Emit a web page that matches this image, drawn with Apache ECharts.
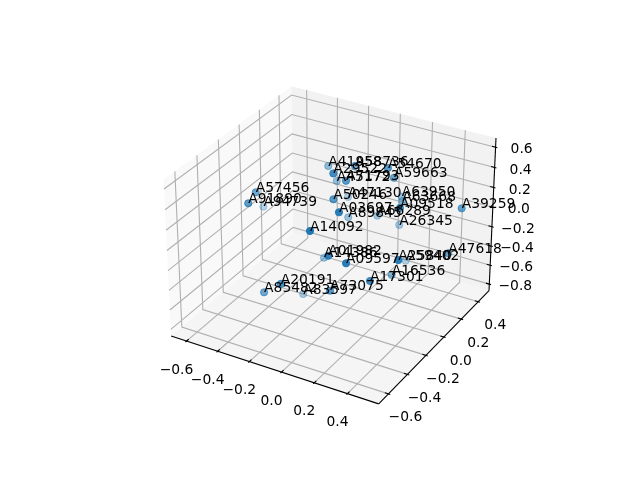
<!DOCTYPE html>
<html>
<head>
<meta charset="utf-8">
<style>html,body{margin:0;padding:0;background:#fff}#main{width:640px;height:480px}</style>
<script src="https://cdn.jsdelivr.net/npm/echarts@6/dist/echarts.min.js"></script>
</head>
<body>
<div id="main"></div>
<script>
const names = ['A41958','A58736','A54670','A29522','A45172','A71793','A59663','A57456','A91890','A94739','A50246',
  'A47130','A63950','A63668','A09518','A39259','A03697','A89845','A66289','A26345','A14092','A01982',
  'A14386','A09597','A25840','A59402','A47618','A16536','A17301','A20191','A85482','A83597','A73075'];
const xVals = [-0.248,-0.051,0.151,-0.047,-0.211,-0.026,0.147,-0.480,-0.449,-0.576,-0.060,
  -0.182,0.121,0.152,0.304,0.526,0.077,-0.106,0.008,0.126,-0.006,0.062,
  -0.166,0.176,0.409,0.185,0.503,0.224,0.263,-0.166,-0.306,-0.239,0.047];
const yVals = [0.181,0.132,0.132,-0.099,0.209,-0.004,0.206,-0.184,-0.304,0.033,-0.077,
  0.281,0.344,0.296,-0.006,0.272,-0.248,0.156,0.276,0.313,-0.400,-0.331,
  0.000,-0.341,-0.203,0.287,0.178,0.061,-0.242,-0.437,-0.386,-0.100,-0.288];
const zVals = [0.328,0.451,0.518,0.560,0.171,0.422,0.362,0.252,0.253,-0.113,0.283,
  -0.037,0.050,0.059,0.303,0.173,0.357,-0.109,-0.140,-0.212,0.263,-0.007,
  -0.422,-0.018,0.006,-0.534,-0.210,-0.465,-0.239,-0.306,-0.506,-0.748,-0.402];

const xTicks = [-0.6,-0.4,-0.2,0,0.2,0.4];
const yTicks = [-0.6,-0.4,-0.2,0,0.2,0.4];
const zTicks = [-0.8,-0.6,-0.4,-0.2,0,0.2,0.4,0.6];
const xLim = [-0.7,0.585];
const yLim = [-0.7,0.53];
const zLim = [-0.87,0.69];

// same camera as a default mplot3d view: elev 30, azim -60, dist 10
const DIST = 10;
const BOX = [1.1905,1.1905,0.8929];
const U = [0.8660,0.5,0];
const V = [-0.25,0.4330,0.8660];
const W = [0.4330,-0.75,0.5];

function toBox(p) {
  return [
    ((p[0]-xLim[0])/(xLim[1]-xLim[0])-0.5)*BOX[0],
    ((p[1]-yLim[0])/(yLim[1]-yLim[0])-0.5)*BOX[1],
    ((p[2]-zLim[0])/(zLim[1]-zLim[0])-0.5)*BOX[2]
  ];
}
function dot(a,b) { return a[0]*b[0]+a[1]*b[1]+a[2]*b[2]; }
function depth(p) { return dot(toBox(p),W); }
function project(p) {
  const b = toBox(p);
  const d = DIST-dot(b,W);
  return [dot(b,U)/d, dot(b,V)/d];
}

const X0 = xLim[0], X1 = xLim[1], Y0 = yLim[0], Y1 = yLim[1], Z0 = zLim[0], Z1 = zLim[1];
const GRID = '#b0b0b0', BLACK = '#000';

let shapes = [];
shapes.push({fill:'#f9f9f9', pts:[[X0,Y0,Z0],[X0,Y1,Z0],[X0,Y1,Z1],[X0,Y0,Z1]]});
shapes.push({fill:'#f2f2f2', pts:[[X0,Y1,Z0],[X1,Y1,Z0],[X1,Y1,Z1],[X0,Y1,Z1]]});
shapes.push({fill:'#f5f5f5', pts:[[X0,Y0,Z0],[X1,Y0,Z0],[X1,Y1,Z0],[X0,Y1,Z0]]});
xTicks.forEach(t => shapes.push({stroke:GRID, pts:[[t,Y0,Z0],[t,Y1,Z0],[t,Y1,Z1]]}));
yTicks.forEach(t => shapes.push({stroke:GRID, pts:[[X1,t,Z0],[X0,t,Z0],[X0,t,Z1]]}));
zTicks.forEach(t => shapes.push({stroke:GRID, pts:[[X0,Y0,t],[X0,Y1,t],[X1,Y1,t]]}));
shapes.push({stroke:BLACK, pts:[[X0,Y0,Z0],[X1,Y0,Z0]]});
shapes.push({stroke:BLACK, pts:[[X1,Y0,Z0],[X1,Y1,Z0]]});
shapes.push({stroke:BLACK, pts:[[X1,Y1,Z0],[X1,Y1,Z1]]});

const dx = (X1-X0)/12, dy = (Y1-Y0)/12;
let tickTexts = [];
function label(v) {
  return v.toFixed(1).replace('-','\u2212');
}
xTicks.forEach(t => {
  shapes.push({stroke:BLACK, pts:[[t,Y0-0.1*dy,Z0],[t,Y0+0.2*dy,Z0]]});
  tickTexts.push({p:[t,Y0,Z0], text:label(t), ox:-10, oy:29});
});
yTicks.forEach(t => {
  shapes.push({stroke:BLACK, pts:[[X1+0.1*dx,t,Z0],[X1-0.2*dx,t,Z0]]});
  tickTexts.push({p:[X1,t,Z0], text:label(t), ox:17, oy:24});
});
zTicks.forEach(t => {
  shapes.push({stroke:BLACK, pts:[[X1+0.1*dx,Y1,t],[X1-0.2*dx,Y1,t]]});
  tickTexts.push({p:[X1,Y1,t], text:label(t), ox:26, oy:2.5});
});

// depth shading: nearest point is opaque, farthest 0.3
const depths = names.map((n,i) => depth([xVals[i],yVals[i],zVals[i]]));
const dMin = Math.min.apply(null,depths), dMax = Math.max.apply(null,depths);
const order = names.map((n,i) => i).sort((a,b) => depths[a]-depths[b]);
const points = order.map(i => ({
  value: project([xVals[i],yVals[i],zVals[i]]),
  itemStyle: {opacity: 0.3+0.7*(depths[i]-dMin)/(dMax-dMin)}
}));

const FONT = '13.89px "DejaVu Sans"';

const chart = echarts.init(document.getElementById('main'));
chart.setOption({
  animation: false,
  backgroundColor: '#fff',
  grid: {left:143.2, top:57.6, width:369.6, height:369.6},
  xAxis: {type:'value', min:-0.095, max:0.09, show:false},
  yAxis: {type:'value', min:-0.095, max:0.09, show:false},
  series: [
    {
      type: 'custom',
      clip: false,
      silent: true,
      z: 1,
      data: shapes.map((s,i) => [i]),
      renderItem: function(params, api) {
        const s = shapes[params.dataIndex];
        const pts = s.pts.map(p => api.coord(project(p)));
        if (s.fill) {
          return {type:'polygon', shape:{points:pts}, style:{fill:s.fill}};
        }
        return {type:'polyline', shape:{points:pts}, style:{fill:null, stroke:s.stroke, lineWidth:1.1}};
      }
    },
    {
      type: 'custom',
      clip: false,
      silent: true,
      z: 2,
      data: tickTexts.map((s,i) => [i]),
      renderItem: function(params, api) {
        const t = tickTexts[params.dataIndex];
        const c = api.coord(project(t.p));
        return {type:'text', x:c[0]+t.ox, y:c[1]+t.oy,
          style:{text:t.text, font:FONT, fill:'#000', align:'center', verticalAlign:'middle'}};
      }
    },
    {
      type: 'scatter',
      z: 3,
      symbol: 'circle',
      symbolSize: 7.2,
      silent: true,
      itemStyle: {color:'#1f77b4', borderColor:'#1f77b4', borderWidth:1},
      data: points
    },
    {
      type: 'custom',
      clip: false,
      silent: true,
      z: 4,
      data: names.map((n,i) => [i]),
      renderItem: function(params, api) {
        const i = params.dataIndex;
        const c = api.coord(project([xVals[i],yVals[i],zVals[i]]));
        return {type:'text', x:c[0], y:c[1]+3,
          style:{text:names[i], font:FONT, fill:'#000', align:'left', verticalAlign:'bottom'}};
      }
    }
  ]
});
</script>
</body>
</html>
